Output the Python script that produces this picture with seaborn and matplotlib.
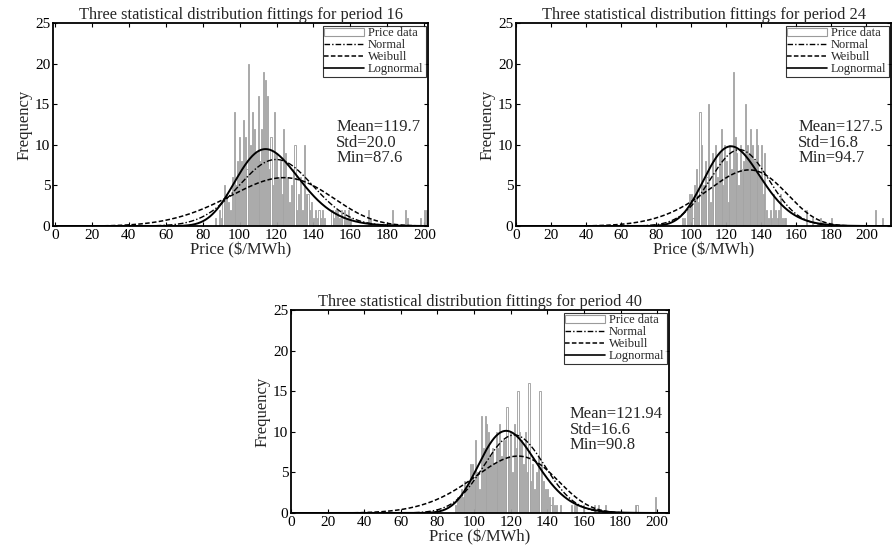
import numpy as np
import matplotlib
matplotlib.use("Agg")
import matplotlib.pyplot as plt
import seaborn as sns
from matplotlib.patches import Patch
from matplotlib.lines import Line2D

# Histogram counts, 1 $/MWh bins
start16 = 87
counts16 = [1, 0, 2, 1, 3, 5, 4, 3, 2, 6,
            14, 5, 8, 11, 8, 13, 11, 7, 20, 10,
            14, 12, 9, 16, 8, 12, 19, 18, 16, 7,
            11, 5, 14, 9, 6, 8, 4, 12, 9, 6,
            3, 5, 7, 10, 2, 4, 6, 2, 10, 4,
            4, 2, 3, 1, 2, 1, 2, 1, 2, 1,
            0, 0, 0, 2, 1, 2, 2, 1, 2, 1,
            2, 1, 2, 1, 0, 0, 0, 0, 0, 0,
            0, 0, 0, 2, 1, 0, 0, 0, 0, 0,
            0, 0, 0, 0, 0, 0, 2, 0, 0, 0,
            0, 0, 0, 2, 1, 0, 0, 0, 0, 0,
            0, 1, 0, 2, 2, 2]

start24 = 95
counts24 = [1, 1, 0, 2, 4, 4, 1, 5, 7, 3,
            14, 10, 5, 8, 6, 15, 3, 9, 8, 10,
            6, 9, 12, 5, 10, 8, 3, 10, 7, 19,
            11, 9, 5, 10, 7, 8, 15, 10, 9, 12,
            10, 8, 12, 10, 6, 10, 4, 9, 2, 1,
            2, 1, 4, 2, 1, 2, 4, 1, 1, 1,
            0, 0, 0, 0, 0, 0, 0, 0, 0, 0,
            0, 2, 0, 0, 1, 0, 0, 0, 0, 1,
            0, 0, 0, 0, 0, 1, 0, 0, 0, 0,
            0, 0, 0, 0, 0, 0, 0, 0, 0, 0,
            0, 0, 0, 0, 0, 0, 0, 0, 0, 0,
            2, 0, 0, 0, 1]

start40 = 90
counts40 = [1, 2, 2, 3, 2, 4, 3, 4, 6, 6,
            4, 9, 5, 3, 12, 8, 12, 11, 10, 7,
            8, 6, 10, 8, 11, 7, 9, 9, 13, 7,
            10, 5, 11, 8, 15, 10, 9, 6, 10, 5,
            16, 4, 6, 3, 5, 7, 15, 6, 4, 3,
            3, 2, 1, 2, 1, 1, 0, 1, 0, 0,
            0, 0, 0, 1, 0, 1, 1, 0, 0, 0,
            1, 0, 0, 0, 0, 0, 1, 0, 1, 0,
            0, 0, 1, 0, 0, 0, 0, 0, 0, 0,
            0, 0, 0, 0, 0, 0, 0, 0, 1, 1,
            0, 0, 0, 0, 0, 0, 0, 0, 0, 2,
            0]

# Fitted distributions (curve area = count scale)
periods = [16, 24, 40]
stat_mean = ["119.7", "127.5", "121.94"]
stat_std = ["20.0", "16.8", "16.6"]
stat_min = ["87.6", "94.7", "90.8"]
fit_area = [411, 396, 400]
normal_mu = [119.7, 127.5, 121.94]
normal_sd = [20.0, 16.8, 16.6]
weib_k = [5.0, 6.4, 6.0]
weib_lam = [129.6, 136.6, 127.8]
logn_mu = [4.759, 4.8266, 4.7841]
logn_s = [0.15, 0.13, 0.133]

sns.set_theme(style="ticks")
plt.rcParams["font.family"] = ["Liberation Serif", "DejaVu Serif"]

fig = plt.figure(figsize=(8.93, 5.54), dpi=100)
axes = [
    fig.add_axes([0.0594, 0.592, 0.4199, 0.3664]),
    fig.add_axes([0.5778, 0.592, 0.4200, 0.3664]),
    fig.add_axes([0.3259, 0.074, 0.4233, 0.3664]),
]
xlims = [(-1, 202), (0, 214), (0, 206.5)]
hist_data = [(start16, counts16), (start24, counts24), (start40, counts40)]
text_x = [0.755, 0.752, 0.738]
BAR_EDGE = "#9b9b9b"


def pdf_curves(i, grid):
    a = fit_area[i]
    normal = a * np.exp(-0.5 * ((grid - normal_mu[i]) / normal_sd[i]) ** 2) / (normal_sd[i] * np.sqrt(2 * np.pi))
    k, lam = weib_k[i], weib_lam[i]
    weib = a * (k / lam) * (grid / lam) ** (k - 1) * np.exp(-(grid / lam) ** k)
    mu, s = logn_mu[i], logn_s[i]
    logn = a * np.exp(-(np.log(grid) - mu) ** 2 / (2 * s ** 2)) / (grid * s * np.sqrt(2 * np.pi))
    return normal, weib, logn


for i, ax in enumerate(axes):
    start, counts = hist_data[i]
    prices = np.arange(start, start + len(counts))
    sns.histplot(x=prices, weights=counts, discrete=True, shrink=0.6,
                 color="white", edgecolor=BAR_EDGE, linewidth=0.6, alpha=1, ax=ax)

    grid = np.linspace(0.5, xlims[i][1], 800)
    normal, weib, logn = pdf_curves(i, grid)
    sns.lineplot(x=grid, y=normal, ax=ax, color="black", linewidth=1.0,
                 linestyle=(0, (4, 1.5, 1, 1.5)))
    sns.lineplot(x=grid, y=weib, ax=ax, color="black", linewidth=1.1,
                 linestyle=(0, (3, 1.5)))
    sns.lineplot(x=grid, y=logn, ax=ax, color="black", linewidth=1.4)

    ax.set_xlim(*xlims[i])
    ax.set_ylim(0, 25)
    ax.set_xticks(range(0, 201, 20))
    ax.set_yticks(range(0, 26, 5))
    ax.tick_params(direction="in", length=3, width=0.8, top=True, right=True,
                   labelsize=11, pad=2, colors="black")
    for sp in ax.spines.values():
        sp.set_visible(True)
        sp.set_linewidth(1.3)
        sp.set_color("black")
    ax.set_xlabel("Price (\\$/MWh)", fontsize=12, labelpad=0)
    ax.set_ylabel("Frequency", fontsize=12, labelpad=2)
    ax.set_title(f"Three statistical distribution fittings for period {periods[i]}",
                 fontsize=11.8, pad=3)

    ax.text(text_x[i], 0.41, f"Mean={stat_mean[i]}\nStd={stat_std[i]}\nMin={stat_min[i]}",
            transform=ax.transAxes, fontsize=12, va="center", ha="left",
            linespacing=0.95)

    handles = [
        Patch(facecolor="white", edgecolor=BAR_EDGE, linewidth=0.8),
        Line2D([], [], color="black", linewidth=1.0, linestyle=(0, (4, 1.5, 1, 1.5))),
        Line2D([], [], color="black", linewidth=1.1, linestyle=(0, (3, 1.5))),
        Line2D([], [], color="black", linewidth=1.2),
    ]
    leg = ax.legend(handles, ["Price data", "Normal", "Weibull", "Lognormal"],
                    loc="upper right", fontsize=9, frameon=True, fancybox=False,
                    borderaxespad=0.2, borderpad=0.15, labelspacing=0.0,
                    handlelength=3.2, handletextpad=0.3, handleheight=0.6)
    leg.get_frame().set_edgecolor("black")
    leg.get_frame().set_linewidth(0.8)

fig.savefig("out.png", dpi=100)
